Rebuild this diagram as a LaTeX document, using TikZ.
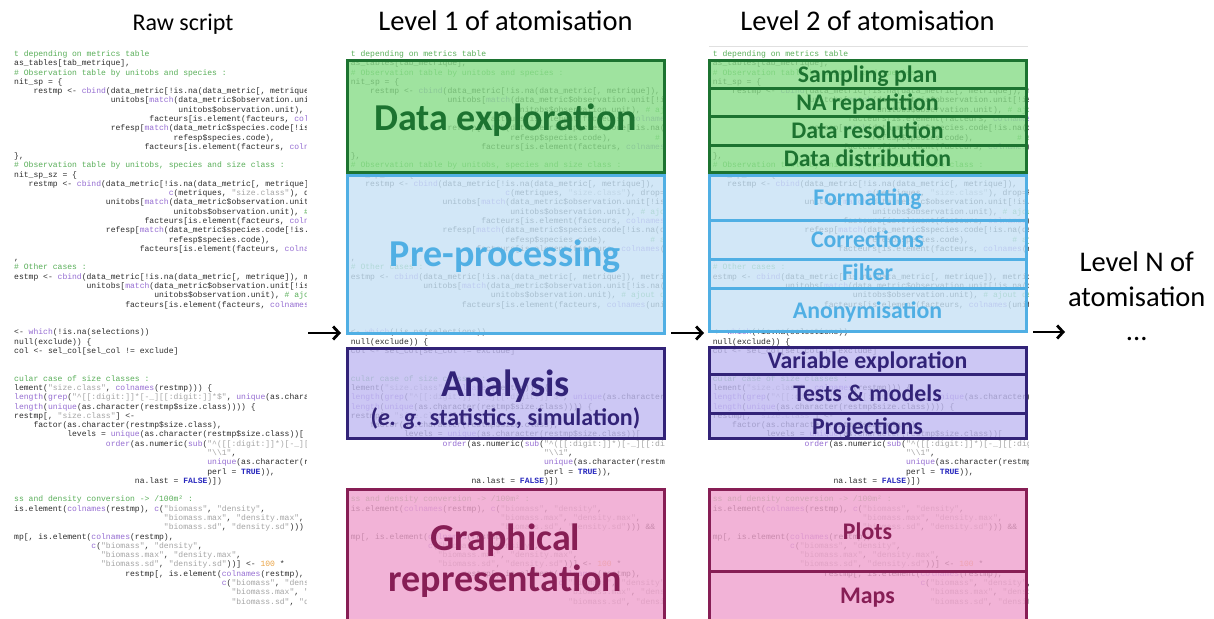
\documentclass[tikz,border=0pt]{standalone}
\usepackage{fontspec}
\setmainfont{Carlito}
\newfontfamily\codefont{Liberation Mono}
\usetikzlibrary{arrows.meta}
\definecolor{ccode}{RGB}{45,45,45}
\definecolor{ccom}{RGB}{90,175,90}
\definecolor{cfun}{RGB}{150,110,210}
\definecolor{cstr}{RGB}{165,165,165}
\definecolor{ckw}{RGB}{40,40,190}
\definecolor{cnum}{RGB}{235,165,70}
\definecolor{gfill}{RGB}{136,221,136}
\definecolor{gline}{RGB}{28,115,48}
\definecolor{bfill}{RGB}{199,226,246}
\definecolor{bline}{RGB}{80,175,228}
\definecolor{pfill}{RGB}{192,186,242}
\definecolor{pline}{RGB}{50,35,120}
\definecolor{kfill}{RGB}{239,161,205}
\definecolor{kline}{RGB}{135,30,85}
\newcommand\Cm[1]{\textcolor{ccom}{#1}}
\newcommand\Fn[1]{\textcolor{cfun}{#1}}
\newcommand\Sg[1]{\textcolor{cstr}{#1}}
\newcommand\Kw[1]{\textcolor{ckw}{\bfseries #1}}
\newcommand\Nm[1]{\textcolor{cnum}{#1}}
\newcommand\cl[3]{\node[codeline] (\cpre-#2-#1) at ({#1*4.83},{56.5+9.28*#2}) {#3};}
\newcommand\codeblock{%
\cl{0}{0}{\Cm{t depending on metrics table}}
\cl{0}{1}{as\_tables[tab\_metrique],}
\cl{0}{2}{\Cm{\# Observation table by unitobs and species :}}
\cl{0}{3}{nit\_sp = \{}
\cl{4}{4}{restmp <- \Fn{cbind}(data\_metric[!is.na(data\_metric[, metrique]), metrique,}
\cl{20}{5}{unitobs[\Fn{match}(data\_metric\$observation.unit[!is.na(data}
\cl{34}{6}{unitobs\$observation.unit), \Cm{\# ajout}}
\cl{28}{7}{facteurs[is.element(facteurs, \Fn{colnames}(unitobs))],}
\cl{20}{8}{refesp[\Fn{match}(data\_metric\$species.code[!is.na(data}
\cl{33}{9}{refesp\$species.code),}
\cl{63}{9}{\Cm{\# ajout}}
\cl{27}{10}{facteurs[is.element(facteurs, \Fn{colnames}(refesp))])}
\cl{0}{11}{\},}
\cl{0}{12}{\Cm{\# Observation table by unitobs, species and size class :}}
\cl{0}{13}{nit\_sp\_sz = \{}
\cl{3}{14}{restmp <- \Fn{cbind}(data\_metric[!is.na(data\_metric[, metrique]),}
\cl{32}{15}{\Fn{c}(metriques, \Sg{"size.class"}), drop=FALSE],}
\cl{19}{16}{unitobs[\Fn{match}(data\_metric\$observation.unit[!is.na(}
\cl{33}{17}{unitobs\$observation.unit), \Cm{\# ajout}}
\cl{27}{18}{facteurs[is.element(facteurs, \Fn{colnames}(unitobs))],}
\cl{19}{19}{refesp[\Fn{match}(data\_metric\$species.code[!is.na(data}
\cl{32}{20}{refesp\$species.code),}
\cl{62}{20}{\Cm{\# ajout}}
\cl{26}{21}{facteurs[is.element(facteurs, \Fn{colnames}(refesp))])}
\cl{0}{22}{,}
\cl{0}{23}{\Cm{\# Other cases :}}
\cl{0}{24}{estmp <- \Fn{cbind}(data\_metric[!is.na(data\_metric[, metrique]), metrique,}
\cl{15}{25}{unitobs[\Fn{match}(data\_metric\$observation.unit[!is.na(data}
\cl{29}{26}{unitobs\$observation.unit), \Cm{\# ajout des champs}}
\cl{23}{27}{facteurs[is.element(facteurs, \Fn{colnames}(unitobs))])}
\cl{0}{30}{<- \Fn{which}(!is.na(selections))}
\cl{0}{31}{null(exclude)) \{}
\cl{0}{32}{col <- sel\_col[sel\_col != exclude]}
\cl{0}{35}{\Cm{cular case of size classes :}}
\cl{0}{36}{lement(\Sg{"size.class"}, \Fn{colnames}(restmp))) \{}
\cl{0}{37}{\Fn{length}(\Fn{grep}(\Sg{"\textasciicircum{}[[:digit:]]*[-\_][[:digit:]]*\$"}, \Fn{unique}(as.character(restmp\$size.class)))}
\cl{0}{38}{\Fn{length}(\Fn{unique}(as.character(restmp\$size.class)))) \{}
\cl{0}{39}{restmp[, \Sg{"size.class"}] <-}
\cl{4}{40}{factor(as.character(restmp\$size.class),}
\cl{11}{41}{levels = \Fn{unique}(as.character(restmp\$size.class))[}
\cl{19}{42}{\Fn{order}(as.numeric(\Fn{sub}(\Sg{"\textasciicircum{}([[:digit:]]*)[-\_][[:digit:]]*\$"},}
\cl{40}{43}{\Sg{"\textbackslash\textbackslash 1"},}
\cl{40}{44}{\Fn{unique}(as.character(restmp\$size.class)),}
\cl{40}{45}{perl = \Kw{TRUE})),}
\cl{25}{46}{na.last = \Kw{FALSE})])}
\cl{0}{48}{\Cm{ss and density conversion -> /100m² :}}
\cl{0}{49}{is.element(\Fn{colnames}(restmp), \Fn{c}(\Sg{"biomass"}, \Sg{"density"},}
\cl{31}{50}{\Sg{"biomass.max"}, \Sg{"density.max"},}
\cl{31}{51}{\Sg{"biomass.sd"}, \Sg{"density.sd"}))) \&\&}
\cl{0}{52}{mp[, is.element(\Fn{colnames}(restmp),}
\cl{16}{53}{\Fn{c}(\Sg{"biomass"}, \Sg{"density"},}
\cl{18}{54}{\Sg{"biomass.max"}, \Sg{"density.max"},}
\cl{18}{55}{\Sg{"biomass.sd"}, \Sg{"density.sd"}))] <- \Nm{100} *}
\cl{23}{56}{restmp[, is.element(\Fn{colnames}(restmp),}
\cl{43}{57}{\Fn{c}(\Sg{"biomass"}, \Sg{"density"},}
\cl{45}{58}{\Sg{"biomass.max"}, \Sg{"density.max"},}
\cl{45}{59}{\Sg{"biomass.sd"}, \Sg{"density.sd"},}
}
\begin{document}
\begin{tikzpicture}[x=1pt,y=-1pt,
  codeline/.style={anchor=base west, inner sep=0pt, font=\codefont\fontsize{8.05}{9}\selectfont, text=ccode},
  boxg/.style={fill=gfill, fill opacity=0.8},
  boxb/.style={fill=bfill, fill opacity=0.8},
  boxp/.style={fill=pfill, fill opacity=0.8},
  boxk/.style={fill=kfill, fill opacity=0.8},
  lineg/.style={draw=gline, line width=3pt},
  lineb/.style={draw=bline, line width=3pt},
  linep/.style={draw=pline, line width=3pt},
  linek/.style={draw=kline, line width=3pt},
  biglbl/.style={anchor=base, inner sep=0pt, font=\fontsize{38}{42}\selectfont\bfseries},
  smllbl/.style={anchor=base, inner sep=0pt, font=\fontsize{23.8}{26}\selectfont\bfseries},
  title/.style={anchor=base, inner sep=0pt, font=\fontsize{28.5}{31}\selectfont, text=black},
  arr/.style={line width=2.8pt, -{Straight Barb[length=6pt,width=13pt]}}
]
\useasboundingbox (0,0) rectangle (1214,618);
\fill[white] (0,0) rectangle (1214,618);
% code columns
\begin{scope}
  \clip (12,44) rectangle (306,618);
  \def\cpre{L}
  \begin{scope}[xshift=14pt]\codeblock\end{scope}
\end{scope}
\begin{scope}
  \clip (346,44) rectangle (664,618);
  \def\cpre{M}
  \begin{scope}[xshift=350.7pt]\codeblock\end{scope}
\end{scope}
\begin{scope}
  \clip (709,44) rectangle (1028,618);
  \def\cpre{R}
  \begin{scope}[xshift=712.7pt]\codeblock\end{scope}
\end{scope}
\draw[black!12, line width=0.8pt] (709,46) -- (1028,46);
% middle boxes fills
\path[boxg] (347,60.7) rectangle (664,172.5);
\path[boxb] (347,175.5) rectangle (664,333);
\path[boxp] (347,348.3) rectangle (664,438.3);
\path[boxk] (347,489.3) rectangle (664,630);
% right boxes fills
\path[boxg] (709.5,60.7) rectangle (1026,172.5);
\path[boxb] (709.5,175.5) rectangle (1026,331.7);
\path[boxp] (709.5,347.3) rectangle (1026,438.3);
\path[boxk] (709.5,489.3) rectangle (1026,630);
% middle borders
\draw[lineg] (347,60.7) rectangle (664,172.5);
\draw[lineb] (347,175.5) rectangle (664,333);
\draw[linep] (347,348.3) rectangle (664,438.3);
\draw[linek] (347,489.3) rectangle (664,630);
% right borders
\draw[lineg] (709.5,60.7) rectangle (1026,88.3);
\draw[lineg] (709.5,88.3) rectangle (1026,116.7);
\draw[lineg] (709.5,116.7) rectangle (1026,145);
\draw[lineg] (709.5,145) rectangle (1026,172.5);
\draw[lineb] (709.5,175.5) rectangle (1026,220);
\draw[lineb] (709.5,220) rectangle (1026,259.3);
\draw[lineb] (709.5,259.3) rectangle (1026,288.3);
\draw[lineb] (709.5,288.3) rectangle (1026,331.7);
\draw[linep] (709.5,347.3) rectangle (1026,374);
\draw[linep] (709.5,374) rectangle (1026,413.3);
\draw[linep] (709.5,413.3) rectangle (1026,438.3);
\draw[linek] (709.5,489.3) rectangle (1026,571.7);
\draw[linek] (709.5,571.7) rectangle (1026,630);
% titles
\node[title, font=\fontsize{24}{28}\selectfont] (traw) at (183,31) {Raw script};
\node[title] (tlv1) at (505.5,31) {Level 1 of atomisation};
\node[title] (tlv2) at (867.5,31) {Level 2 of atomisation};
\node[title] (tlvn1) at (1136.7,271.7) {Level N of};
\node[title] (tlvn2) at (1136.7,306.7) {atomisation};
\node[title] (tlvn3) at (1136.7,340) {...};
% middle labels
\node[biglbl, text=gline] (mde) at (505.5,130.7) {Data exploration};
\node[biglbl, text=bline] (mpp) at (505.5,266) {Pre-processing};
\node[biglbl, text=pline] (man) at (505.5,396.7) {Analysis};
\node[anchor=base, inner sep=0pt, font=\fontsize{24}{28}\selectfont\bfseries, text=pline] (meg) at (505.5,425) {(\textit{e. g.} statistics, simulation)};
\node[biglbl, text=kline] (mgr) at (505.5,550) {Graphical};
\node[biglbl, text=kline] (mrp) at (505.5,591.7) {representation};
% right labels
\node[smllbl, text=gline] (rsp) at (867.5,82.7) {Sampling plan};
\node[smllbl, text=gline] (rna) at (867.5,110.7) {NA repartition};
\node[smllbl, text=gline] (rdr) at (867.5,138.3) {Data resolution};
\node[smllbl, text=gline] (rdd) at (867.5,166.7) {Data distribution};
\node[smllbl, text=bline] (rfo) at (867.5,205) {Formatting};
\node[smllbl, text=bline] (rco) at (867.5,247) {Corrections};
\node[smllbl, text=bline] (rfi) at (867.5,280.7) {Filter};
\node[smllbl, text=bline] (ran) at (867.5,318.3) {Anonymisation};
\node[smllbl, text=pline] (rve) at (867.5,368.3) {Variable exploration};
\node[smllbl, text=pline] (rtm) at (867.5,401.7) {Tests \& models};
\node[smllbl, text=pline] (rpr) at (867.5,434.3) {Projections};
\node[smllbl, text=kline] (rpl) at (867.5,539.3) {Plots};
\node[smllbl, text=kline] (rma) at (867.5,603.3) {Maps};
% arrows
\coordinate (a1s) at (308,333);
\coordinate (a1e) at (341,333);
\coordinate (a2s) at (671,333);
\coordinate (a2e) at (704,333);
\coordinate (a3s) at (1033,332);
\coordinate (a3e) at (1065,332);
\draw[arr] (a1s) -- (a1e);
\draw[arr] (a2s) -- (a2e);
\draw[arr] (a3s) -- (a3e);
\end{tikzpicture}
\end{document}
